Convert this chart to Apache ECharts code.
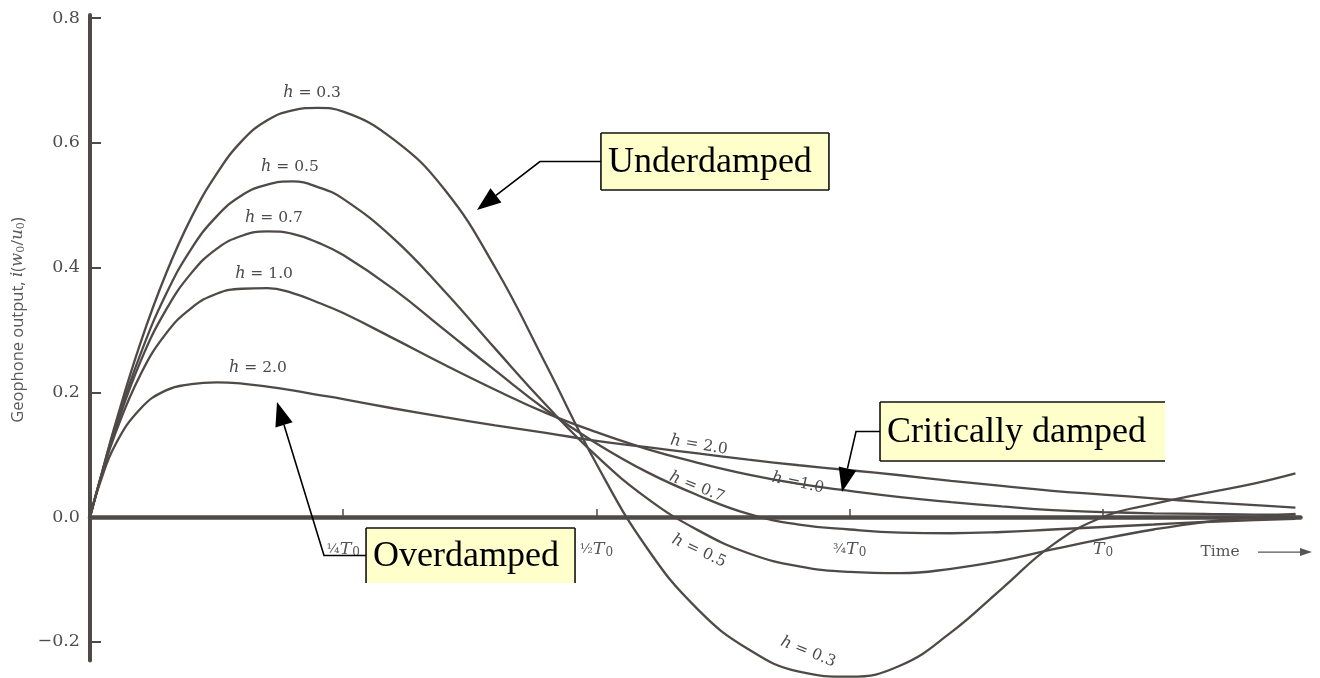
<!DOCTYPE html>
<html>
<head>
<meta charset="utf-8">
<script src="https://cdn.jsdelivr.net/npm/echarts@6/dist/echarts.min.js"></script>
<style>
  html, body { margin: 0; padding: 0; background: #ffffff; }
  #chart { width: 1320px; height: 678px; }
</style>
</head>
<body>
<div id="chart"></div>
<script>
// Time axis, in fractions of the natural period T0
const timeFractions = [0, 0.01, 0.025, 0.05, 0.075, 0.1, 0.125, 0.15, 0.175, 0.2, 0.225, 0.25,
  0.3, 0.35, 0.4, 0.45, 0.5, 0.55, 0.6, 0.65, 0.7, 0.75, 0.8, 0.85, 0.9, 0.95, 1.0, 1.05, 1.1, 1.15, 1.19];

// Geophone output i(w0/u0) for each damping factor h
const outputH03 = [0, 0.06, 0.149, 0.28, 0.39, 0.48, 0.55, 0.603, 0.636, 0.652, 0.656, 0.65,
  0.605, 0.525, 0.4, 0.245, 0.085, -0.05, -0.148, -0.212, -0.248, -0.256, -0.238, -0.185, -0.115, -0.045, 0.0,
  0.021, 0.038, 0.054, 0.07];
const outputH05 = [0, 0.06, 0.145, 0.262, 0.357, 0.43, 0.482, 0.516, 0.533, 0.538, 0.529, 0.51,
  0.446, 0.362, 0.27, 0.18, 0.098, 0.03, -0.021, -0.058, -0.079, -0.088, -0.09, -0.083, -0.07, -0.052, -0.035,
  -0.02, -0.008, 0.0, 0.005];
const outputH07 = [0, 0.06, 0.14, 0.25, 0.332, 0.391, 0.43, 0.451, 0.458, 0.454, 0.44, 0.42,
  0.365, 0.3, 0.235, 0.172, 0.118, 0.072, 0.035, 0.005, -0.012, -0.02, -0.025, -0.026, -0.024, -0.02, -0.016,
  -0.012, -0.008, -0.005, -0.003];
const outputH10 = [0, 0.059, 0.134, 0.229, 0.294, 0.335, 0.358, 0.366, 0.367, 0.359, 0.344, 0.327,
  0.286, 0.244, 0.204, 0.167, 0.136, 0.109, 0.087, 0.068, 0.053, 0.042, 0.032, 0.024, 0.017, 0.011, 0.008,
  0.006, 0.005, 0.004, 0.004];
const outputH20 = [0, 0.055, 0.116, 0.174, 0.203, 0.213, 0.216, 0.214, 0.209, 0.203, 0.196, 0.189,
  0.174, 0.16, 0.147, 0.135, 0.122, 0.112, 0.102, 0.092, 0.083, 0.075, 0.067, 0.058, 0.05, 0.042, 0.036,
  0.03, 0.024, 0.019, 0.015];

const dampingNames = ['h = 0.3', 'h = 0.5', 'h = 0.7', 'h = 1.0', 'h = 2.0'];
const yTickValues = [-0.2, 0, 0.2, 0.4, 0.6, 0.8];
const xTickValues = [0.25, 0.5, 0.75, 1];
const xTickFractions = ['¼', '½', '¾', ''];

const INK = '#4f4a47';
const GREY_TEXT = '#555';
const SERIF = '"Liberation Serif", serif';
const BOOK = '"DejaVu Serif", serif';

// plot frame
const GRID = { left: 90, right: 19.5, top: 14.9, bottom: 17.5 };
const Y_MIN = -0.23, Y_MAX = 0.805;
const PLOT_H = 678 - GRID.top - GRID.bottom;
// the time axis sits on the zero line; shift it up from the bottom edge of the grid
const zeroShift = PLOT_H * (0 - Y_MIN) / (Y_MAX - Y_MIN);

const chart = echarts.init(document.getElementById('chart'), null, { renderer: 'canvas' });

const curves = [outputH03, outputH05, outputH07, outputH10, outputH20];

chart.setOption({
  backgroundColor: '#ffffff',
  animation: false,
  grid: { left: GRID.left, right: GRID.right, top: GRID.top, bottom: GRID.bottom, outerBoundsMode: 'none' },
  xAxis: {
    type: 'value',
    min: 0,
    max: 1.195,
    position: 'bottom',
    offset: -zeroShift,
    axisLine: { onZero: false, lineStyle: { color: INK, width: 4.5 } },
    axisTick: { show: true, inside: true, length: 8, customValues: xTickValues, lineStyle: { color: INK, width: 1.5 } },
    axisLabel: {
      show: true,
      margin: 23,
      customValues: xTickValues,
      formatter: function (v) {
        const i = xTickValues.indexOf(v);
        const f = i >= 0 ? xTickFractions[i] : '';
        return (f ? '{fr|' + f + '}' : '') + '{it|T}{sub|0}';
      },
      rich: {
        fr: { fontFamily: BOOK, fontSize: 13.5, color: GREY_TEXT },
        it: { fontFamily: BOOK, fontStyle: 'italic', fontSize: 17.5, color: GREY_TEXT },
        sub: { fontFamily: BOOK, fontSize: 12, color: GREY_TEXT, padding: [7, 0, 0, 1] }
      }
    },
    splitLine: { show: false }
  },
  yAxis: {
    type: 'value',
    min: Y_MIN,
    max: Y_MAX,
    axisLine: { show: true, onZero: false, lineStyle: { color: INK, width: 4 } },
    axisTick: { show: true, inside: true, length: 11, customValues: yTickValues, lineStyle: { color: INK, width: 2 } },
    axisLabel: {
      show: true,
      margin: 10,
      customValues: yTickValues,
      fontFamily: BOOK,
      fontSize: 17.5,
      color: '#4d4d4d',
      formatter: function (v) {
        return v < 0 ? '\u2212' + Math.abs(v).toFixed(1) : v.toFixed(1);
      }
    },
    splitLine: { show: false }
  },
  series: curves.map(function (vals, k) {
    return {
      name: dampingNames[k],
      type: 'line',
      showSymbol: false,
      smooth: 0.45,
      clip: false,
      z: 3,
      lineStyle: { color: INK, width: 2.3 },
      data: timeFractions.map(function (t, i) { return [t, vals[i]]; })
    };
  })
});

// ---- labels and call-outs, anchored in data coordinates ----
function toPx(t, v) { return chart.convertToPixel({ gridIndex: 0 }, [t, v]); }

const labelRich = {
  i: { fontFamily: BOOK, fontStyle: 'italic', fontSize: 16, fill: '#4a4a4a' },
  n: { fontFamily: BOOK, fontSize: 15.5, fill: '#4a4a4a' }
};

// curve labels: [text after h, t, value, rotation in degrees]
const curveLabels = [
  [' = 0.3', 0.2192, 0.6797, 0],
  [' = 0.5', 0.1974, 0.5611, 0],
  [' = 0.7', 0.1816, 0.4794, 0],
  [' = 1.0', 0.1718, 0.3896, 0],
  [' = 2.0', 0.1658, 0.2389, 0],
  [' = 2.0', 0.6012, 0.1154, -10],
  [' = 0.7', 0.5992, 0.0481, -22],
  [' = 0.5', 0.6012, -0.0545, -25],
  [' =1.0', 0.6989, 0.0545, -12],
  [' = 0.3', 0.7088, -0.2164, -22]
];

const graphics = [];

curveLabels.forEach(function (c) {
  const p = toPx(c[1], c[2]);
  graphics.push({
    type: 'text', x: p[0], y: p[1], rotation: c[3] * Math.PI / 180, z: 10,
    style: {
      text: '{i|h}{n|' + c[0] + '}', rich: labelRich,
      align: 'center', verticalAlign: 'middle'
    }
  });
});

// y-axis title
graphics.push({
  type: 'text', x: 18, y: 320, rotation: Math.PI / 2, z: 10,
  style: {
    text: '{s|Geophone output, }{i|i}{s|(}{i|w}{b|0}{s|/}{i|u}{b|0}{s|)}',
    align: 'center', verticalAlign: 'middle',
    rich: {
      s: { fontFamily: '"Open Sans", Lato, sans-serif', fontSize: 16.5, fill: '#5a5a5a' },
      i: { fontFamily: BOOK, fontStyle: 'italic', fontSize: 16.5, fill: '#5a5a5a' },
      b: { fontFamily: BOOK, fontSize: 11, fill: '#5a5a5a', padding: [6, 0, 0, 0] }
    }
  }
});

// "Time ->" at the end of the time axis
const timePos = toPx(1.1155, -0.0561);
graphics.push({
  type: 'text', x: timePos[0], y: timePos[1], z: 10,
  style: { text: 'Time', font: '15.5px ' + BOOK, fill: GREY_TEXT, align: 'center', verticalAlign: 'middle' }
});
graphics.push({
  type: 'line', z: 10,
  shape: { x1: timePos[0] + 38, y1: timePos[1], x2: timePos[0] + 82, y2: timePos[1] },
  style: { stroke: GREY_TEXT, lineWidth: 1.3 }
});
graphics.push({
  type: 'polygon', z: 10,
  shape: { points: [[timePos[0] + 80, timePos[1] - 4], [timePos[0] + 92, timePos[1]], [timePos[0] + 80, timePos[1] + 4]] },
  style: { fill: GREY_TEXT }
});

// call-out boxes: text, box top-left (t, v), width, height, elbow offset, arrow tip (t, v), drawn borders
const callouts = [
  { text: 'Underdamped', at: [0.5044, 0.6156], w: 228, h: 57, elbow: 61, tip: [0.382, 0.4922], sides: 'tlbr' },
  { text: 'Critically damped', at: [0.7799, 0.1844], w: 285, h: 59, elbow: 24, tip: [0.7424, 0.0401], sides: 'tlb' },
  { text: 'Overdamped', at: [0.2725, -0.0176], w: 209, h: 55, elbow: 42, tip: [0.1846, 0.1844], sides: 'tlr' }
];

callouts.forEach(function (c) {
  const tl = toPx(c.at[0], c.at[1]);
  const x0 = tl[0], y0 = tl[1], x1 = x0 + c.w, y1 = y0 + c.h;
  const midY = y0 + c.h / 2;
  const tip = toPx(c.tip[0], c.tip[1]);
  const elbowX = x0 - c.elbow;

  graphics.push({
    type: 'rect', z: 20,
    shape: { x: x0, y: y0, width: c.w, height: c.h },
    style: { fill: '#ffffcc', stroke: null }
  });
  const edges = { t: [[x0, y0], [x1, y0]], l: [[x0, y0], [x0, y1]], b: [[x0, y1], [x1, y1]], r: [[x1, y0], [x1, y1]] };
  c.sides.split('').forEach(function (s) {
    graphics.push({
      type: 'polyline', z: 21,
      shape: { points: edges[s] },
      style: { stroke: '#111', lineWidth: 1.6, fill: null }
    });
  });
  graphics.push({
    type: 'text', x: x0 + 7, y: midY + 1, z: 22,
    style: { text: c.text, font: '36px ' + SERIF, fill: '#000', align: 'left', verticalAlign: 'middle' }
  });

  // leader: horizontal stub then straight run to the arrow head
  const dx = tip[0] - elbowX, dy = tip[1] - midY;
  const len = Math.sqrt(dx * dx + dy * dy);
  const ux = dx / len, uy = dy / len;
  const headLen = 24, headHalf = 9;
  const baseX = tip[0] - ux * headLen, baseY = tip[1] - uy * headLen;
  graphics.push({
    type: 'polyline', z: 21,
    shape: { points: [[x0, midY], [elbowX, midY], [baseX, baseY]] },
    style: { stroke: '#000', lineWidth: 1.6, fill: null }
  });
  graphics.push({
    type: 'polygon', z: 21,
    shape: { points: [[tip[0], tip[1]], [baseX - uy * headHalf, baseY + ux * headHalf], [baseX + uy * headHalf, baseY - ux * headHalf]] },
    style: { fill: '#000' }
  });
});

chart.setOption({ graphic: graphics });
</script>
</body>
</html>
